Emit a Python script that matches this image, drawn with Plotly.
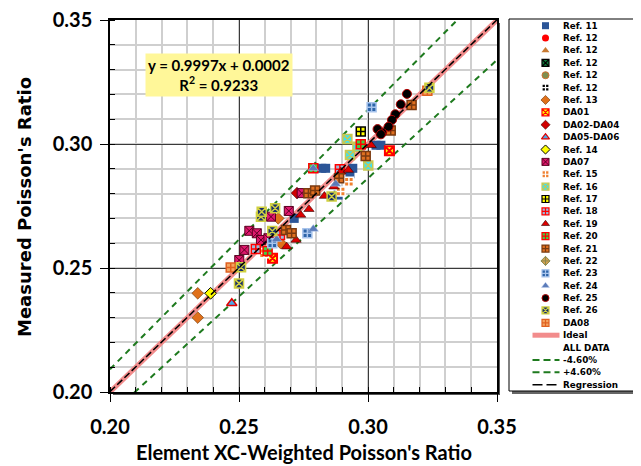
import plotly.graph_objects as go

# The page body has an 8px margin, so the figure is drawn 8px in from the window corner.
OFF = 8
W, H = 641 - OFF, 466 - OFF

# ---------------- data ----------------
series_names = ["Ref. 11", "Ref. 12", "Ref. 12", "Ref. 12", "Ref. 12", "Ref. 12", "Ref. 13",
                "DA01", "DA02-DA04", "DA05-DA06", "Ref. 14", "DA07", "Ref. 15", "Ref. 16",
                "Ref. 17", "Ref. 18", "Ref. 19", "Ref. 20", "Ref. 21", "Ref. 22", "Ref. 23",
                "Ref. 24", "Ref. 25", "Ref. 26", "DA08"]

ref11_x = [0.2714, 0.2821, 0.2836, 0.3031, 0.3050, 0.2941, 0.2884, 0.2930]
ref11_y = [0.2700, 0.2902, 0.2902, 0.2995, 0.2995, 0.2902, 0.2794, 0.2880]
ref12a_x, ref12a_y = [], []
ref12b_x, ref12b_y = [], []
ref12c_x, ref12c_y = [], []
ref12d_x, ref12d_y = [], []
ref12e_x, ref12e_y = [], []
ref13_x = [0.2340, 0.2340, 0.2652, 0.2662]
ref13_y = [0.2398, 0.2300, 0.2700, 0.2600]
da01_x = [0.3083, 0.2630]
da01_y = [0.2973, 0.2539]
da02_x = [0.2725]
da02_y = [0.2802]
da05_x = [0.2472]
da05_y = [0.2358]
ref14_x = [0.2390]
ref14_y = [0.2398]
da07_x = [0.2501, 0.2521, 0.2540, 0.2569, 0.2585, 0.2614, 0.2624, 0.2693, 0.2743]
da07_y = [0.2532, 0.2573, 0.2650, 0.2640, 0.2613, 0.2620, 0.2707, 0.2730, 0.2802]
ref15_x = [0.2597, 0.2894, 0.2926]
ref15_y = [0.2559, 0.2808, 0.2848]
ref16_x = [0.2920, 0.2930, 0.3001, 0.2959]
ref16_y = [0.3020, 0.2956, 0.2913, 0.2989]
ref17_x = [0.2972]
ref17_y = [0.3050]
ref18_x = [0.2565, 0.2659, 0.2891]
ref18_y = [0.2577, 0.2633, 0.2898]
ref19_x = [0.2685, 0.2721, 0.2771, 0.2739, 0.2831, 0.2868, 0.2895, 0.3012, 0.2924]
ref19_y = [0.2586, 0.2613, 0.2737, 0.2714, 0.2790, 0.2828, 0.2888, 0.2995, 0.2895]
ref20_x = [0.2972, 0.2611, 0.2788]
ref20_y = [0.2999, 0.2569, 0.2902]
ref21_x = [0.2991, 0.3088, 0.3169, 0.2888, 0.2682, 0.2704, 0.2769, 0.2795]
ref21_y = [0.2952, 0.3054, 0.3157, 0.2862, 0.2653, 0.2640, 0.2801, 0.2812]
ref22_x, ref22_y = [], []
ref23_x = [0.3014, 0.2765, 0.2629]
ref23_y = [0.3148, 0.2640, 0.2600]
ref24_x = [0.2788, 0.2875, 0.2788, 0.2646]
ref24_y = [0.2657, 0.2839, 0.2902, 0.2616]
ref25_x = [0.3151, 0.3127, 0.3106, 0.3093, 0.3080, 0.3055, 0.3037, 0.3050]
ref25_y = [0.3202, 0.3160, 0.3120, 0.3097, 0.3070, 0.3046, 0.3060, 0.3039]
ref26_x = [0.2500, 0.2508, 0.2585, 0.2588, 0.2640, 0.2629, 0.2859, 0.3238]
ref26_y = [0.2438, 0.2503, 0.2707, 0.2727, 0.2741, 0.2649, 0.2788, 0.3227]
da08_x = [0.2468, 0.3230]
da08_y = [0.2502, 0.3215]

series_x = [ref11_x, ref12a_x, ref12b_x, ref12c_x, ref12d_x, ref12e_x, ref13_x, da01_x, da02_x,
            da05_x, ref14_x, da07_x, ref15_x, ref16_x, ref17_x, ref18_x, ref19_x, ref20_x,
            ref21_x, ref22_x, ref23_x, ref24_x, ref25_x, ref26_x, da08_x]
series_y = [ref11_y, ref12a_y, ref12b_y, ref12c_y, ref12d_y, ref12e_y, ref13_y, da01_y, da02_y,
            da05_y, ref14_y, da07_y, ref15_y, ref16_y, ref17_y, ref18_y, ref19_y, ref20_y,
            ref21_y, ref22_y, ref23_y, ref24_y, ref25_y, ref26_y, da08_y]

line_names = ["Ideal", "ALL DATA", "-4.60%", "+4.60%", "Regression"]
reg_slope, reg_intercept = 0.9997, 0.0002
band = 0.046
axis_min, axis_max = 0.20, 0.35
tick_vals = [0.20, 0.25, 0.30, 0.35]
tick_text = ["0.20", "0.25", "0.30", "0.35"]

# ---------------- styles ----------------
# (symbol, fill, line color, line width)
styles = [
    ("square", "#2b5597", "#2b5597", 0),
    ("circle", "#ff0000", "#ff0000", 0),
    ("triangle-up", "#c87a32", "#c87a32", 0),
    ("square-x", "#0c7a3a", "#000000", 1.5),
    ("circle", "#7f8f50", "#d07030", 1),
    ("square-cross", "#000000", "#ffffff", 1.5),
    ("diamond", "#e0701a", "#6a3000", 0.6),
    ("square-x", "#ffff00", "#ff0000", 2),
    ("diamond", "#d00000", "#400000", 0.6),
    ("triangle-up", "#4aa8e8", "#e00000", 1.5),
    ("diamond", "#ffff00", "#000000", 1),
    ("square-x", "#e0186e", "#5a0020", 1),
    ("square-cross", "#f08030", "#ffffff", 1.5),
    ("square-x", "#40e0f0", "#c8c850", 1.5),
    ("square-cross", "#ffff00", "#000000", 1.5),
    ("square-cross", "#a0b8d8", "#ff0000", 1.5),
    ("triangle-up", "#dd0000", "#300000", 0.6),
    ("square-cross", "#40d040", "#ff0000", 1.5),
    ("square-cross", "#e07020", "#7a3a10", 1.5),
    ("diamond-cross", "#d4a050", "#8a8a50", 1),
    ("square-cross", "#2d64a8", "#a8c4ec", 1.5),
    ("triangle-up", "#5a7ab8", "#c0d0f0", 0.5),
    ("circle", "#000000", "#b00000", 1),
    ("square-x", "#1a2f6a", "#d0d040", 1.5),
    ("square-cross", "#f4a460", "#e06020", 1.5),
]

fig = go.Figure()

# reference lines
lx = [axis_min, axis_max]
fig.add_trace(go.Scatter(x=lx, y=lx, mode="lines", line=dict(color="#f28c8c", width=5),
                         hoverinfo="skip"))
fig.add_trace(go.Scatter(x=lx, y=[v * (1 - band) for v in lx], mode="lines",
                         line=dict(color="#1e7a1e", width=2, dash="6px,5px"), hoverinfo="skip"))
fig.add_trace(go.Scatter(x=lx, y=[v * (1 + band) for v in lx], mode="lines",
                         line=dict(color="#1e7a1e", width=2, dash="6px,5px"), hoverinfo="skip"))

# data (DA08 drawn beneath Ref. 26)
order = list(range(len(series_names)))
order.remove(24)
order.insert(23, 24)
for i in order:
    sym, fc, lc, lw = styles[i]
    fig.add_trace(go.Scatter(x=series_x[i], y=series_y[i], mode="markers", name=series_names[i],
                             marker=dict(symbol=sym, color=fc, size=9,
                                         line=dict(color=lc, width=lw))))

fig.add_trace(go.Scatter(x=lx, y=[reg_slope * v + reg_intercept for v in lx], mode="lines",
                         line=dict(color="#000000", width=1.5, dash="7px,3px"), hoverinfo="skip"))

# ---------------- custom legend (own axes, pixel units of the window) ----------------
LX0, LX1, LY0, LY1 = 509, 637, 19, 391
row0, row_h = 25.7, 12.38
mark_x, text_x, seg0, seg1 = 545.5, 560.5, 532.5, 559.5
for i, name in enumerate(series_names):
    sym, fc, lc, lw = styles[i]
    yy = row0 + i * row_h
    fig.add_trace(go.Scatter(x=[mark_x], y=[yy], xaxis="x2", yaxis="y2", mode="markers",
                             marker=dict(symbol=sym, color=fc, size=7,
                                         line=dict(color=lc, width=min(lw, 1.2))),
                             hoverinfo="skip"))
line_styles = [dict(color="#f28c8c", width=5), None,
               dict(color="#1e7a1e", width=2, dash="7px,4px"),
               dict(color="#1e7a1e", width=2, dash="7px,4px"),
               dict(color="#000000", width=1.5, dash="10px,4px")]
names_all = series_names + line_names
for j, ls in enumerate(line_styles):
    if ls is None:
        continue
    yy = row0 + (len(series_names) + j) * row_h
    fig.add_trace(go.Scatter(x=[seg0, seg1], y=[yy, yy], xaxis="x2", yaxis="y2", mode="lines",
                             line=ls, hoverinfo="skip"))


def px(xv):
    return (xv - OFF) / W


def py(yv):
    return 1 - (yv - OFF) / H


annotations = []
for k, name in enumerate(names_all):
    yy = row0 + k * row_h
    annotations.append(dict(x=text_x, y=yy, xref="x2", yref="y2", text=name, showarrow=False,
                            xanchor="left", yanchor="middle",
                            font=dict(family="DejaVu Sans", size=8.8, color="#000000",
                                      weight="bold")))

# regression equation box
annotations.append(dict(x=px(218.5), y=py(75), xref="paper", yref="paper",
                        xanchor="center", yanchor="middle",
                        text="y = 0.9997x + 0.0002<br>R<sup>2</sup> = 0.9233", showarrow=False,
                        bgcolor="#fff799", borderpad=2, align="center",
                        font=dict(family="Lato", size=15, color="#000000", weight="bold")))
# axis titles
annotations.append(dict(x=px(304), y=py(452), xref="paper", yref="paper",
                        xanchor="center", yanchor="middle",
                        text="Element XC-Weighted Poisson's Ratio", showarrow=False,
                        font=dict(family="Lato", size=20, color="#000000", weight="bold")))
annotations.append(dict(x=px(25), y=py(207), xref="paper", yref="paper", textangle=-90,
                        xanchor="center", yanchor="middle",
                        text="Measured Poisson's Ratio", showarrow=False,
                        font=dict(family="DejaVu Sans", size=18, color="#000000",
                                  weight="bold")))

PX0, PX1, PY0, PY1 = 110, 497, 20, 392

shapes = [
    # plot area shadow + white bg
    dict(type="rect", xref="paper", yref="paper", x0=px(PX0 + 3), x1=px(PX1 + 3),
         y0=py(PY1 + 3), y1=py(PY0 + 3), fillcolor="#555555", line=dict(width=0), layer="below"),
    dict(type="rect", xref="paper", yref="paper", x0=px(PX0), x1=px(PX1),
         y0=py(PY1), y1=py(PY0), fillcolor="#ffffff", line=dict(width=0), layer="below"),
    # legend shadow + box
    dict(type="rect", xref="paper", yref="paper", x0=px(LX0 + 3), x1=px(LX1 + 3),
         y0=py(LY1 + 3), y1=py(LY0 + 3), fillcolor="#666666", line=dict(width=0), layer="below"),
    dict(type="rect", xref="paper", yref="paper", x0=px(LX0), x1=px(LX1),
         y0=py(LY1), y1=py(LY0), fillcolor="#ffffff", line=dict(color="#000000", width=1),
         layer="below"),
]

tickfont = dict(family="Lato", size=20, color="#000000", weight="bold")
axis_common = dict(range=[axis_min, axis_max], tickvals=tick_vals, ticktext=tick_text,
                   showgrid=True, gridcolor="#3a3a3a", gridwidth=1.3,
                   showline=True, linecolor="#000000", linewidth=1.5, mirror=True,
                   ticks="outside", ticklen=8, tickwidth=1.2, tickcolor="#000000",
                   tickfont=tickfont, zeroline=False, automargin=False, fixedrange=True,
                   ticklabeloverflow="allow",
                   minor=dict(dtick=0.01, showgrid=True, gridcolor="#cfcfcf", gridwidth=2,
                              ticks="inside", ticklen=5, tickcolor="#000000", tickwidth=1))

fig.update_layout(
    width=W, height=H, margin=dict(l=0, r=0, t=0, b=0),
    paper_bgcolor="#ffffff", plot_bgcolor="rgba(0,0,0,0)", showlegend=False,
    xaxis=dict(domain=[px(PX0), px(PX1)], anchor="y", ticklabelstandoff=8, **axis_common),
    yaxis=dict(domain=[py(PY1), py(PY0)], anchor="x", ticklabelstandoff=4, **axis_common),
    xaxis2=dict(domain=[px(LX0), px(LX1)], range=[LX0, LX1], anchor="y2", visible=False,
                fixedrange=True),
    yaxis2=dict(domain=[py(LY1), py(LY0)], range=[LY1, LY0], anchor="x2",
                visible=False, fixedrange=True),
    shapes=shapes, annotations=annotations,
)

fig.write_html("out.html", config={"displayModeBar": False})
